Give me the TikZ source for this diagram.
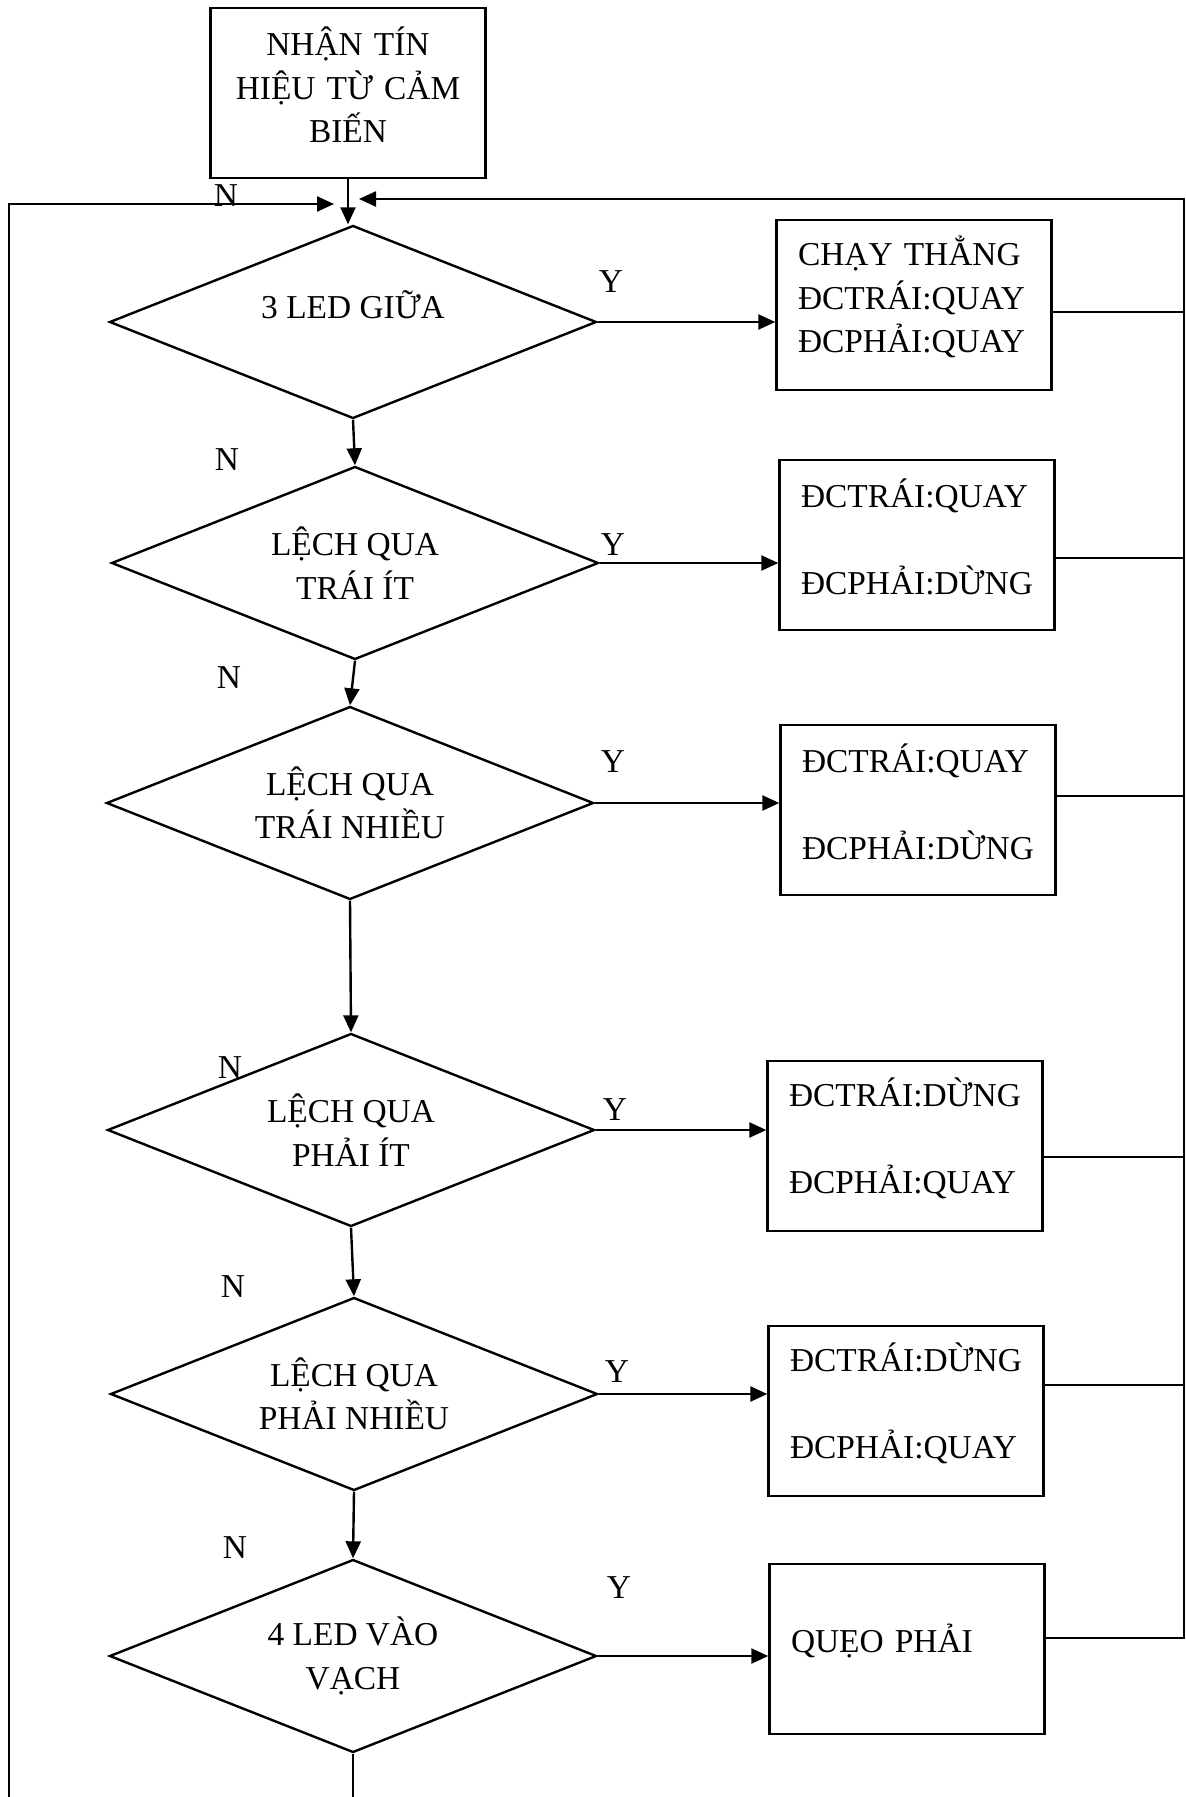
\documentclass[tikz,border=0pt]{standalone}
\usepackage{fontspec}
\setmainfont{Liberation Serif}
\usetikzlibrary{arrows.meta,shapes.geometric}

\begin{document}
\begin{tikzpicture}[x=0.5pt,y=-0.5pt,line width=1.2pt,>={Triangle[length=8.5pt,width=7.5pt]},
    every node/.style={font=\fontsize{16.7}{21.8}\selectfont},
    hop/.style={draw,rectangle,text width=116pt,inner xsep=10.75pt,minimum height=85pt,align=left,
        execute at end node={\endgraf\vspace*{8pt}}},
    dk/.style={draw,diamond,aspect=2.5,inner sep=0pt,minimum width=243.5pt,minimum height=96.5pt,align=center}]
    \useasboundingbox (0,0) rectangle (1186,1797);
    \node[hop,align=center] (start) at (348,93) {NHẬN TÍN\\HIỆU TỪ CẢM\\BIẾN};
    \node[dk] (q1) at (353,322) {3 LED GIỮA\\[-4pt]};
    \node[dk] (q2) at (355,563) {LỆCH QUA\\TRÁI ÍT};
    \node[dk] (q3) at (350,803) {LỆCH QUA\\TRÁI NHIỀU};
    \node[dk] (q4) at (351,1130) {LỆCH QUA\\PHẢI ÍT};
    \node[dk] (q5) at (354,1394) {LỆCH QUA\\PHẢI NHIỀU};
    \node[dk] (q6) at (353,1656) {4 LED VÀO\\VẠCH};
    \node[hop] (act1) at (914,305) {CHẠY THẲNG\\ĐCTRÁI:QUAY\\ĐCPHẢI:QUAY};
    \node[hop] (act2) at (917,545) {ĐCTRÁI:QUAY\\[21.8pt]ĐCPHẢI:DỪNG};
    \node[hop] (act3) at (918,810) {ĐCTRÁI:QUAY\\[21.8pt]ĐCPHẢI:DỪNG};
    \node[hop] (act4) at (905,1146) {ĐCTRÁI:DỪNG\\[21.8pt]ĐCPHẢI:QUAY};
    \node[hop] (act5) at (906,1411) {ĐCTRÁI:DỪNG\\[21.8pt]ĐCPHẢI:QUAY};
    \node[hop] (act6) at (907,1649) {QUẸO PHẢI};
    \coordinate (jl) at (334,204);
    \coordinate (jr) at (359,199);
    \coordinate (rt) at (1184,199);
    \coordinate (lb) at (9,1797);
    \coordinate (sb) at (353,1797);
    \draw[->] (start.south) -- (start.south |- q1.north);
    \foreach \i/\j in {1/2,2/3,3/4,4/5,5/6}
        \draw[->] (q\i.south) -- (q\j.north);
    \foreach \i in {1,...,6}
        \draw[->] (q\i.east) -- (q\i.east -| act\i.west);
    \foreach \i/\dy in {1/-3.5,2/-6.5,3/7,4/-5.5,5/13}
        \draw ([yshift=\dy pt]act\i.east) -- ([yshift=\dy pt]act\i.east -| rt);
    \draw[->] ([yshift=5.5pt]act6.east) -| (rt) -- (jr);
    \draw (q6.south) -- (sb);
    \draw[->] (lb) |- (jl);
    \foreach \x/\y [count=\k] in {226/196,227/460,229/678,230/1068,233/1287,235/1548}
        \node (n\k) at (\x,\y) {N};
    \foreach \x/\y [count=\k] in {611/282,613/545,613/762,615/1110,617/1372,619/1588}
        \node (y\k) at (\x,\y) {Y};
\end{tikzpicture}
\end{document}
